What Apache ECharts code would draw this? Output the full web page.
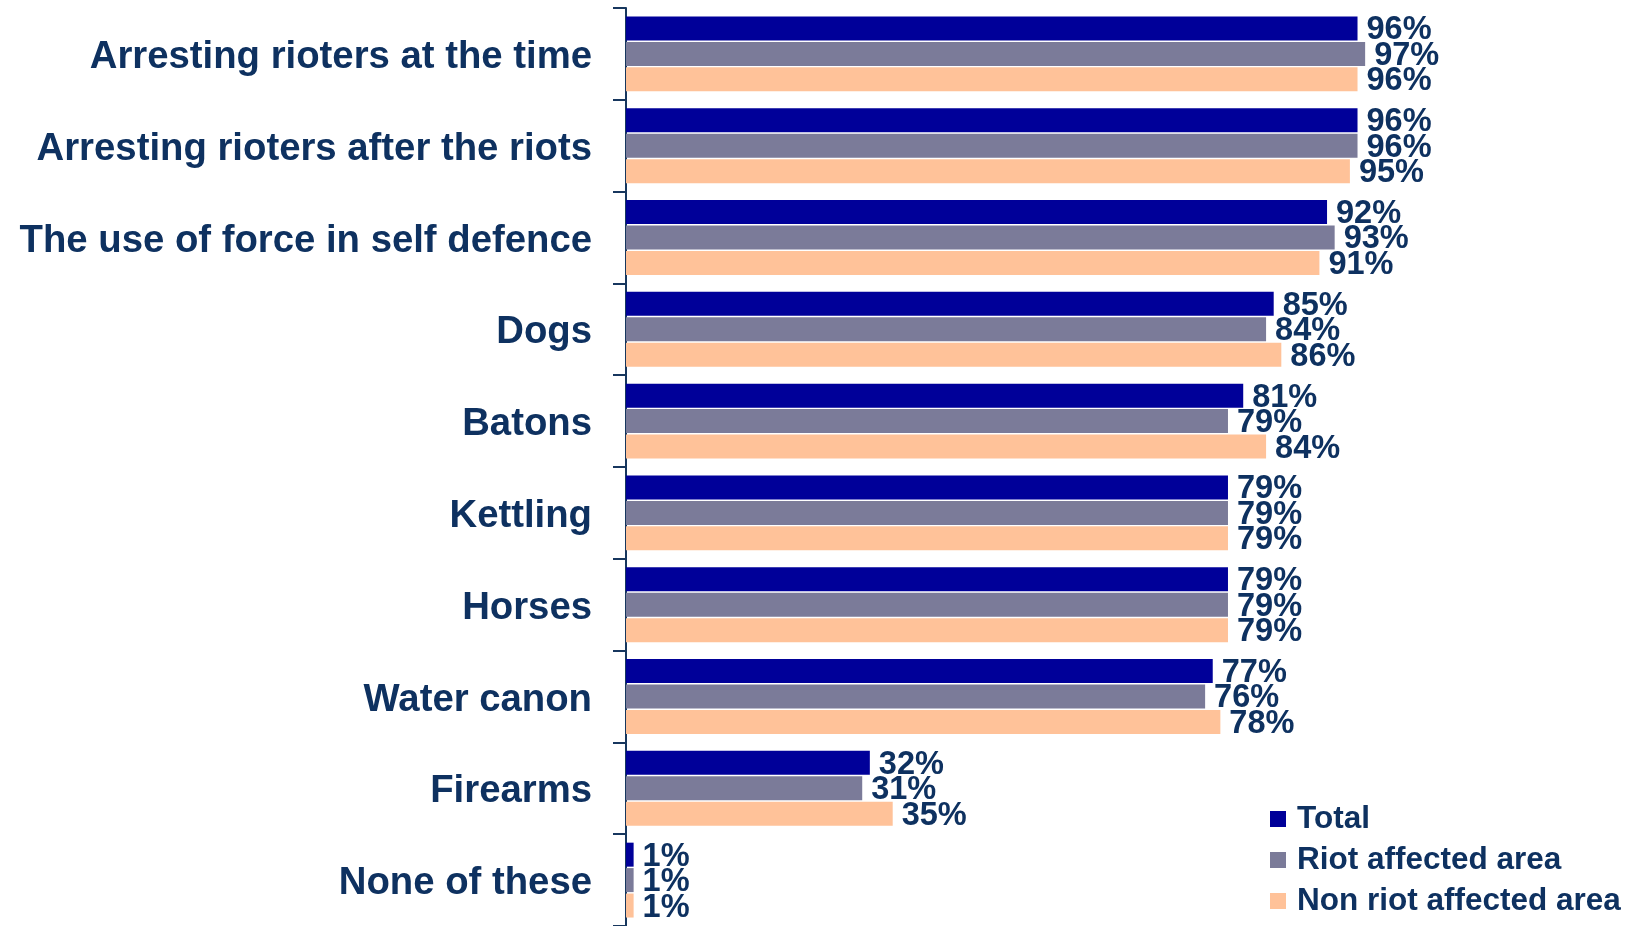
<!DOCTYPE html>
<html>
<head>
<meta charset="utf-8">
<script src="https://cdn.jsdelivr.net/npm/echarts@6/dist/echarts.min.js"></script>
<style>
html,body{margin:0;padding:0;background:#fff;}
#chart{width:1638px;height:926px;}
</style>
</head>
<body>
<div id="chart"></div>
<script>
const categories = [
  "Arresting rioters at the time",
  "Arresting rioters after the riots",
  "The use of force in self defence",
  "Dogs",
  "Batons",
  "Kettling",
  "Horses",
  "Water canon",
  "Firearms",
  "None of these"
];
const seriesNames = ["Total", "Riot affected area", "Non riot affected area"];
const totalValues = [96, 96, 92, 85, 81, 79, 79, 77, 32, 1];
const riotValues = [97, 96, 93, 84, 79, 79, 79, 76, 31, 1];
const nonRiotValues = [96, 95, 91, 86, 84, 79, 79, 78, 35, 1];
const colors = ["#000099", "#7B7B99", "#FFC299"];

const textColor = "#0E3160";
const font = "'Liberation Sans', Arial, sans-serif";

function makeSeries(name, data, color) {
  return {
    name: name,
    type: "bar",
    data: data,
    barWidth: 24,
    barGap: "6%",
    itemStyle: { color: color },
    label: {
      show: true,
      position: "right",
      distance: 9,
      offset: [0, 2],
      formatter: "{c}%",
      color: textColor,
      fontFamily: font,
      fontWeight: "bold",
      fontSize: 32.5
    }
  };
}

const chart = echarts.init(document.getElementById("chart"), null, { renderer: "canvas" });
chart.setOption({
  animation: false,
  backgroundColor: "#ffffff",
  grid: { left: 626, right: 250, top: 8, height: 923, containLabel: false },
  legend: {
    orient: "vertical",
    left: 1265,
    top: 798,
    itemWidth: 16,
    itemHeight: 16,
    itemGap: 9,
    icon: "rect",
    textStyle: {
      color: textColor,
      fontFamily: font,
      fontWeight: "bold",
      fontSize: 31.5,
      lineHeight: 32,
      padding: [0, 0, 0, 6]
    },
    data: seriesNames
  },
  xAxis: {
    type: "value",
    min: 0,
    max: 100,
    show: false,
    splitLine: { show: false }
  },
  yAxis: {
    type: "category",
    data: categories,
    inverse: true,
    axisLine: { show: true, lineStyle: { color: "#17375E", width: 2 } },
    axisTick: { show: true, length: 13, lineStyle: { color: "#17375E", width: 2 } },
    axisLabel: {
      margin: 34,
      color: textColor,
      fontFamily: font,
      fontWeight: "bold",
      fontSize: 38.3,
      formatter: function (v) { return "{a|" + v + "}"; },
      rich: {
        a: {
          color: textColor,
          fontFamily: font,
          fontWeight: "bold",
          fontSize: 38.3,
          padding: [7, 0, 0, 0]
        }
      }
    }
  },
  series: [
    makeSeries(seriesNames[0], totalValues, colors[0]),
    makeSeries(seriesNames[1], riotValues, colors[1]),
    makeSeries(seriesNames[2], nonRiotValues, colors[2])
  ]
});
</script>
</body>
</html>
